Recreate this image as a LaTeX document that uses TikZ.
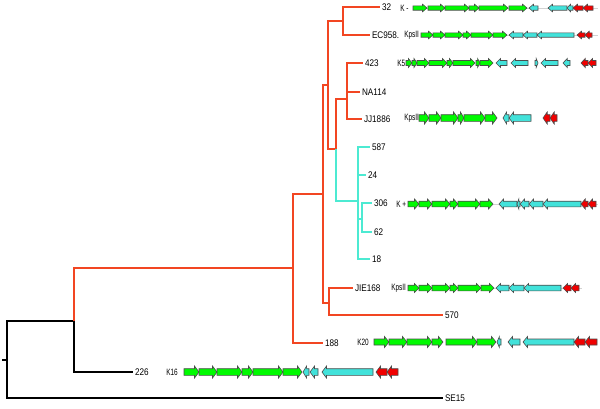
\documentclass[tikz,border=0pt]{standalone}
\usepackage{fontspec}
\setmainfont{Liberation Sans}
\usetikzlibrary{calc}
\definecolor{treered}{RGB}{242,70,34}
\definecolor{treecyan}{RGB}{76,234,210}
\definecolor{genegreen}{RGB}{0,250,0}
\definecolor{genecyan}{RGB}{66,226,218}
\definecolor{genered}{RGB}{240,0,0}

% gene arrow from tail #1 to tip #2 on row #3, filled with #4
\newcommand{\gene}[4]{%
  \pgfmathsetmacro{\glen}{#2-#1}%
  \pgfmathsetmacro{\ghead}{ifthenelse(\glen<0,-1,1)*min(\ghl,0.6*abs(\glen))}%
  \filldraw[gene, fill=#4] (#1,#3-\gb) -- ({#2-(\ghead)},#3-\gb) -- ({#2-(\ghead)},#3-\gh)
    -- (#2,#3) -- ({#2-(\ghead)},#3+\gh) -- ({#2-(\ghead)},#3+\gb) -- (#1,#3+\gb) -- cycle;%
}

\begin{document}
\begin{tikzpicture}[
    x=0.5pt, y=-0.5pt,
    blackbr/.style={line width=1pt, black},
    redbr/.style={line width=1pt, treered},
    cyanbr/.style={line width=1pt, treecyan},
    leaf/.style={anchor=west, inner sep=1pt, font=\fontsize{4.8}{5}\selectfont, xscale=0.85},
    locus/.style={anchor=west, inner sep=0pt, font=\fontsize{4.6}{5}\selectfont, xscale=0.7},
    gene/.style={draw=black!70, line width=0.3pt},
    backbone/.style={gray!35, line width=0.25pt},
]
\fill[white] (0,0) rectangle (600,408);
\useasboundingbox (0,0) rectangle (600,408);

% Leaves
\node[leaf] (l32) at (380,7) {32};
\node[leaf] (lEC) at (370,35) {EC958.};
\node[leaf] (l423) at (363,63) {423};
\node[leaf] (lNA) at (360,92) {NA114};
\node[leaf] (lJJ) at (362,119) {JJ1886};
\node[leaf] (l587) at (370,147) {587};
\node[leaf] (l24) at (366,175) {24};
\node[leaf] (l306) at (372,203) {306};
\node[leaf] (l62) at (372,232) {62};
\node[leaf] (l18) at (370,259) {18};
\node[leaf] (lJIE) at (353,288) {JIE168};
\node[leaf] (l570) at (443,315) {570};
\node[leaf] (l188) at (323,343) {188};
\node[leaf] (l226) at (133,372) {226};
\node[leaf] (lSE) at (443,398) {SE15};

% Internal nodes
\coordinate (stem) at (2,360);
\coordinate (n0) at (7,360);
\coordinate (n1) at (74,321);
\coordinate (n2) at (293,268);
\coordinate (n3) at (323,194);
\coordinate (n4) at (328,85);
\coordinate (n5) at (343,21);
\coordinate (n6) at (336,149);
\coordinate (n7) at (347,99);
\coordinate (n8) at (329,303);
\coordinate (n9) at (358,201);
\coordinate (n10) at (362,219);

% Tree
\draw[black, line width=0.6pt] (stem) -- (n0);
\draw[blackbr] (n0) |- (n1);
\draw[blackbr] (n0) |- (lSE.west);
\draw[blackbr] (n1) |- (l226.west);
\draw[redbr] (n1) |- (n2);
\draw[redbr] (n2) |- (n3);
\draw[redbr] (n2) |- (l188.west);
\draw[redbr] (n3) |- (n4);
\draw[redbr] (n3) |- (n8);
\draw[redbr] (n4) |- (n5);
\draw[redbr] (n4) |- (n6);
\draw[redbr] (n5) |- (l32.west);
\draw[redbr] (n5) |- (lEC.west);
\draw[redbr] (n6) |- (n7);
\draw[redbr] (n7) |- (l423.west);
\draw[redbr] (n7) |- (lNA.west);
\draw[redbr] (n7) |- (lJJ.west);
\draw[redbr] (n8) |- (lJIE.west);
\draw[redbr] (n8) |- (l570.west);
\draw[cyanbr] (n6) |- (n9);
\draw[cyanbr] (n9) |- (l587.west);
\draw[cyanbr] (n9) |- (l24.west);
\draw[cyanbr] (n9) |- (n10);
\draw[cyanbr] (n9) |- (l18.west);
\draw[cyanbr] (n10) |- (l306.west);
\draw[cyanbr] (n10) |- (l62.west);

% Capsule loci
\node[locus] (k32) at (400,8) {K -};
\node[locus] (kEC) at (404,35) {KpsII};
\node[locus] (k423) at (397,63) {K5};
\node[locus] (kJJ) at (404,118) {KpsII};
\node[locus] (k306) at (396,204) {K +};
\node[locus] (kJIE) at (391,288) {KpsII};
\node[locus] (k188) at (357,342) {K20};
\node[locus] (k226) at (166,372) {K16};

\def\ghl{4.5}

% 32
\def\gb{2.2}\def\gh{3.8}
\draw[backbone] (413,8) -- (598,8);
\foreach \a/\b in {413/427, 428/445, 445/469, 469/479, 479/508, 509/527} {\gene{\a}{\b}{8}{genegreen}}
\foreach \a/\b in {538/529, 567/548, 573/567} {\gene{\a}{\b}{8}{genecyan}}
\foreach \a/\b in {583/573, 593/583} {\gene{\a}{\b}{8}{genered}}

% EC958
\draw[backbone] (421,35) -- (598,35);
\foreach \a/\b in {421/433, 433/445, 445/463, 463/471, 471/493, 493/507} {\gene{\a}{\b}{35}{genegreen}}
\foreach \a/\b in {523/509, 537/523, 574/537} {\gene{\a}{\b}{35}{genecyan}}
\foreach \a/\b in {585/577, 592/585} {\gene{\a}{\b}{35}{genered}}

% 423
\def\gb{2.5}\def\gh{4.5}
\foreach \a/\b in {406/412, 412/417, 417/429, 429/447, 447/453, 453/475, 476/480, 480/493} {\gene{\a}{\b}{63}{genegreen}}
\foreach \a/\b in {507/496, 528/511, 535/538, 558/541, 570/563} {\gene{\a}{\b}{63}{genecyan}}
\foreach \a/\b in {588/581, 596/588} {\gene{\a}{\b}{63}{genered}}

% JJ1886
\def\gb{3.3}\def\gh{6}
\foreach \a/\b in {419/429, 429/441, 441/458, 458/464, 464/485, 485/497} {\gene{\a}{\b}{118}{genegreen}}
\foreach \a/\b in {509/503, 531/509} {\gene{\a}{\b}{118}{genecyan}}
\foreach \a/\b in {550/543, 557/550} {\gene{\a}{\b}{118}{genered}}

% 306
\def\gb{2.8}\def\gh{5}
\draw[backbone] (408,204) -- (598,204);
\foreach \a/\b in {408/419, 419/432, 432/450, 450/458, 458/480, 480/493} {\gene{\a}{\b}{204}{genegreen}}
\foreach \a/\b in {517/499, 520/517, 529/520, 543/529, 581/543} {\gene{\a}{\b}{204}{genecyan}}
\foreach \a/\b in {588/581, 596/588} {\gene{\a}{\b}{204}{genered}}

% JIE168
\def\gb{2.8}\def\gh{4.5}
\draw[backbone] (408,288) -- (582,288);
\foreach \a/\b in {408/419, 419/432, 432/450, 450/458, 458/481, 481/494} {\gene{\a}{\b}{288}{genegreen}}
\foreach \a/\b in {509/496, 524/509, 561/524} {\gene{\a}{\b}{288}{genecyan}}
\foreach \a/\b in {571/563, 579/571} {\gene{\a}{\b}{288}{genered}}

% 188
\def\gb{3}\def\gh{5.5}
\foreach \a/\b in {374/389, 389/407, 407/432, 432/443, 446/477, 477/496} {\gene{\a}{\b}{342}{genegreen}}
\foreach \a/\b in {501/497, 520/508, 574/523} {\gene{\a}{\b}{342}{genecyan}}
\foreach \a/\b in {585/574, 597/585} {\gene{\a}{\b}{342}{genered}}

% 226
\def\gb{3.3}\def\gh{6}
\foreach \a/\b in {184/199, 199/217, 217/242, 242/253, 253/283, 283/302} {\gene{\a}{\b}{372}{genegreen}}
\foreach \a/\b in {309/303, 318/310, 373/322} {\gene{\a}{\b}{372}{genecyan}}
\foreach \a/\b in {387/376, 398/387} {\gene{\a}{\b}{372}{genered}}

\end{tikzpicture}
\end{document}
